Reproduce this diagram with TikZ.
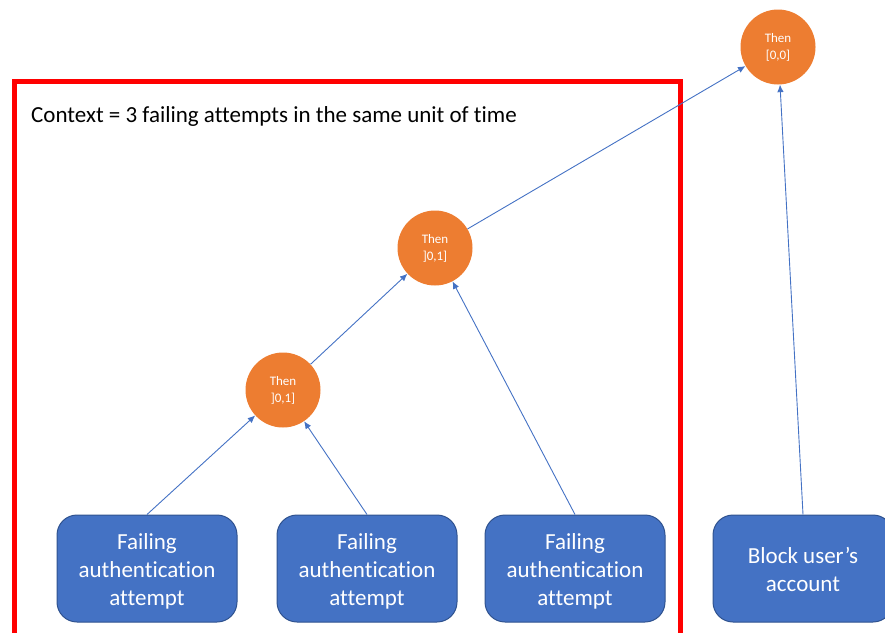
\documentclass[tikz,border=0pt]{standalone}
\usepackage{fontspec}
\setmainfont{Carlito}[Ligatures=NoCommon]
\usetikzlibrary{arrows.meta}
\definecolor{accorange}{HTML}{ED7D31}
\definecolor{accblue}{HTML}{4472C4}
\definecolor{blueedge}{HTML}{2F528F}
\definecolor{framered}{HTML}{FF0000}

% centred multi-line label, nudged down a little while keeping its box size
\newcommand{\boxlines}[2][3pt]{\raisebox{-#1}[\height][\depth]{\begin{tabular}{@{}c@{}}#2\end{tabular}}}

\tikzset{
  eventbox/.style={draw=blueedge, line width=1pt, fill=accblue, rounded corners=20pt,
    minimum width=180pt, minimum height=107pt, text=white, align=center,
    font=\fontsize{23}{28}\selectfont, inner sep=0pt},
  thennode/.style={circle, fill=accorange, minimum size=75pt, inner sep=0pt,
    text=white, align=center, font=\fontsize{13}{17}\selectfont},
  link/.style={draw=accblue, line width=0.9pt, -{Latex[length=7.5pt,width=6.5pt]}},
}

\begin{document}
\begin{tikzpicture}[x=1pt,y=-1pt]
\useasboundingbox (0,0) rectangle (885,632);

% context frame
\draw[framered, line width=5pt] (14,81) rectangle (680,660);
\node[anchor=west, font=\fontsize{23}{28}\selectfont, inner sep=0pt] (ctx) at (31,116)
  {Context = 3 failing attempts in the same unit of time};

% events
\node[eventbox] (b1) at (147,568.5) {\boxlines{Failing\\authentication\\attempt}};
\node[eventbox] (b2) at (367,568.5) {\boxlines{Failing\\authentication\\attempt}};
\node[eventbox] (b3) at (575,568.5) {\boxlines{Failing\\authentication\\attempt}};
\node[eventbox] (b4) at (803,568.5) {\boxlines{Block user’s\\account}};

% sequence operators
\node[thennode] (c3) at (283,390) {Then\\{]0,1]}};
\node[thennode] (c2) at (435,248) {Then\\{]0,1]}};
\node[thennode] (c1) at (778,47) {Then\\{[0,0]}};

% connectors
\draw[link] (b1.north) -- (c3);
\draw[link] (b2.north) -- (c3);
\draw[link] (c3) -- (c2);
\draw[link] (b3.north) -- (c2);
\draw[link] (c2) -- (c1);
\draw[link] (b4.north) -- (c1);
\end{tikzpicture}
\end{document}
